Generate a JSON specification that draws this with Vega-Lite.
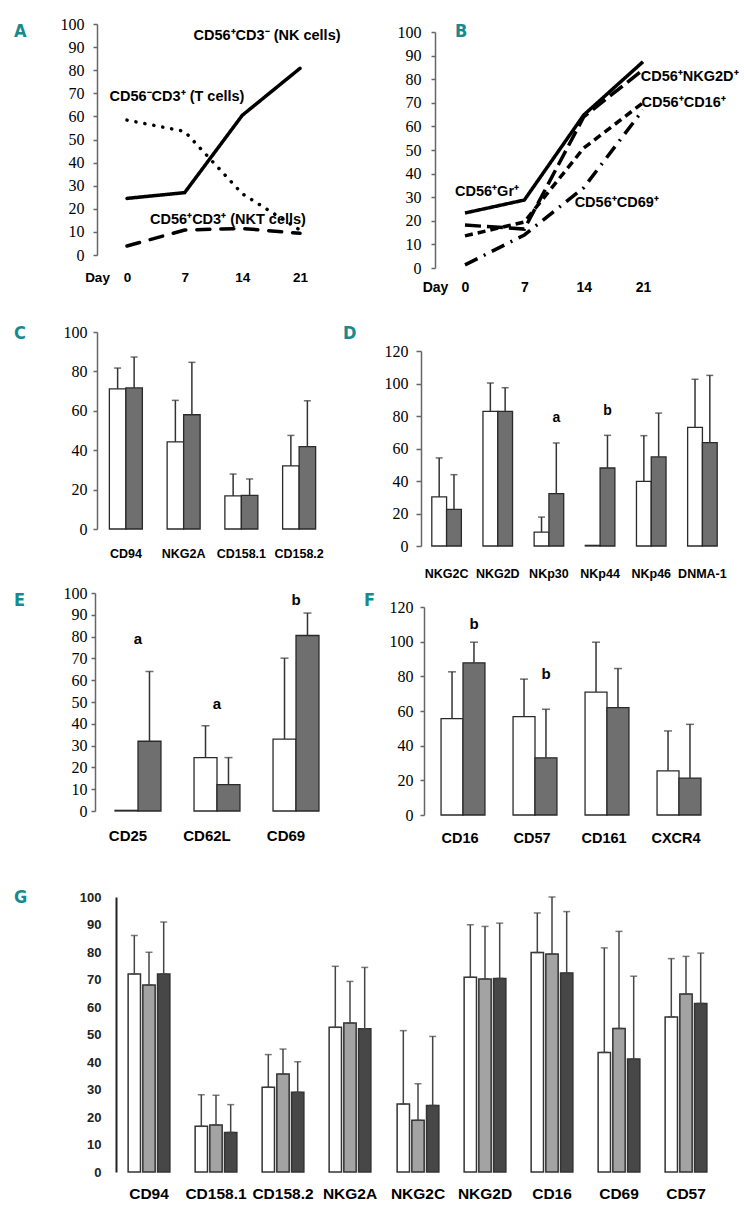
{
  "$schema": "https://vega.github.io/schema/vega-lite/v6.json",
  "padding": {"left": 14, "top": 10, "right": 0, "bottom": 5},
  "autosize": {"type": "pad"},
  "background": "white",
  "columns": 2,
  "align": "none",
  "bounds": "flush",
  "spacing": 0,
  "resolve": {"scale": {"xOffset": "independent", "fill": "independent", "strokeDash": "independent"}},
  "config": {"view": {"stroke": null}, "axis": {"grid": false, "labelOverlap": false, "labelFlush": false}, "title": {"offset": 0}},
  "datasets": {
    "A": [
      {"day": 0, "series": "NK", "value": 24.5}, {"day": 7, "series": "NK", "value": 27}, {"day": 14, "series": "NK", "value": 60.5}, {"day": 21, "series": "NK", "value": 80.8},
      {"day": 0, "series": "T", "value": 58.4}, {"day": 7, "series": "T", "value": 53.5}, {"day": 14, "series": "T", "value": 26.5}, {"day": 21, "series": "T", "value": 10.8},
      {"day": 0, "series": "NKT", "value": 3.9}, {"day": 7, "series": "NKT", "value": 10.8}, {"day": 14, "series": "NKT", "value": 11.5}, {"day": 21, "series": "NKT", "value": 9.4}
    ],
    "Alab": [
      {"day": 17.0, "value": 94.8, "label": "CD56⁺CD3⁻ (NK cells)"},
      {"day": 6.07, "value": 68.4, "label": "CD56⁻CD3⁺ (T cells)"},
      {"day": 12.26, "value": 15.2, "label": "CD56⁺CD3⁺ (NKT cells)"}
    ],
    "B": [
      {"day": 0, "series": "Gr", "value": 23.3}, {"day": 7, "series": "Gr", "value": 28.8}, {"day": 14, "series": "Gr", "value": 64.8}, {"day": 21, "series": "Gr", "value": 87.4},
      {"day": 0, "series": "NKG2D", "value": 18.2}, {"day": 7, "series": "NKG2D", "value": 16.5}, {"day": 14, "series": "NKG2D", "value": 64}, {"day": 21, "series": "NKG2D", "value": 84},
      {"day": 0, "series": "CD16", "value": 13.6}, {"day": 7, "series": "CD16", "value": 19.5}, {"day": 14, "series": "CD16", "value": 50.8}, {"day": 21, "series": "CD16", "value": 70},
      {"day": 0, "series": "CD69", "value": 1.3}, {"day": 7, "series": "CD69", "value": 14}, {"day": 14, "series": "CD69", "value": 34}, {"day": 21, "series": "CD69", "value": 67}
    ],
    "Blab": [
      {"day": 26.5, "value": 80.9, "label": "CD56⁺NKG2D⁺"},
      {"day": 25.8, "value": 69.9, "label": "CD56⁺CD16⁺"},
      {"day": 2.6, "value": 32.2, "label": "CD56⁺Gr⁺"},
      {"day": 17.9, "value": 27.5, "label": "CD56⁺CD69⁺"}
    ],
    "C": [
      {"cat": "CD94", "grp": "before", "value": 71.1, "upper": 81.7},
      {"cat": "CD94", "grp": "after", "value": 71.6, "upper": 87.3},
      {"cat": "NKG2A", "grp": "before", "value": 44.2, "upper": 65.3},
      {"cat": "NKG2A", "grp": "after", "value": 58, "upper": 84.6},
      {"cat": "CD158.1", "grp": "before", "value": 16.8, "upper": 27.9},
      {"cat": "CD158.1", "grp": "after", "value": 17.1, "upper": 25.4},
      {"cat": "CD158.2", "grp": "before", "value": 32, "upper": 47.5},
      {"cat": "CD158.2", "grp": "after", "value": 41.8, "upper": 65.1}
    ],
    "D": [
      {"cat": "NKG2C", "grp": "before", "value": 30.2, "upper": 54.2},
      {"cat": "NKG2C", "grp": "after", "value": 22.6, "upper": 43.9},
      {"cat": "NKG2D", "grp": "before", "value": 82.9, "upper": 100.3},
      {"cat": "NKG2D", "grp": "after", "value": 82.9, "upper": 97.4},
      {"cat": "NKp30", "grp": "before", "value": 8.6, "upper": 17.8},
      {"cat": "NKp30", "grp": "after", "value": 32.2, "upper": 63.4},
      {"cat": "NKp44", "grp": "before", "value": 0.4, "upper": null},
      {"cat": "NKp44", "grp": "after", "value": 48, "upper": 68.1},
      {"cat": "NKp46", "grp": "before", "value": 39.8, "upper": 67.9},
      {"cat": "NKp46", "grp": "after", "value": 54.8, "upper": 81.8},
      {"cat": "DNMA-1", "grp": "before", "value": 73, "upper": 102.6},
      {"cat": "DNMA-1", "grp": "after", "value": 63.6, "upper": 105}
    ],
    "Dlet": [
      {"cat": "NKp30", "grp": "after", "value": 79, "label": "a"},
      {"cat": "NKp44", "grp": "after", "value": 83, "label": "b"}
    ],
    "E": [
      {"cat": "CD25", "grp": "before", "value": 0.3, "upper": null},
      {"cat": "CD25", "grp": "after", "value": 32, "upper": 64},
      {"cat": "CD62L", "grp": "before", "value": 24.5, "upper": 39.1},
      {"cat": "CD62L", "grp": "after", "value": 12.1, "upper": 24.5},
      {"cat": "CD69", "grp": "before", "value": 33, "upper": 70.1},
      {"cat": "CD69", "grp": "after", "value": 80.5, "upper": 90.8}
    ],
    "Elet": [
      {"cat": "CD25", "value": 79, "label": "a"},
      {"cat": "CD62L", "value": 49, "label": "a"},
      {"cat": "CD69", "value": 97, "label": "b"}
    ],
    "F": [
      {"cat": "CD16", "grp": "before", "value": 55.6, "upper": 82.6},
      {"cat": "CD16", "grp": "after", "value": 87.8, "upper": 99.7},
      {"cat": "CD57", "grp": "before", "value": 56.7, "upper": 78.4},
      {"cat": "CD57", "grp": "after", "value": 33, "upper": 61},
      {"cat": "CD161", "grp": "before", "value": 70.9, "upper": 99.7},
      {"cat": "CD161", "grp": "after", "value": 62, "upper": 84.5},
      {"cat": "CXCR4", "grp": "before", "value": 25.5, "upper": 48.5},
      {"cat": "CXCR4", "grp": "after", "value": 21.3, "upper": 52.3}
    ],
    "Flet": [
      {"cat": "CD16", "grp": "after", "value": 110, "label": "b"},
      {"cat": "CD57", "grp": "after", "value": 81.6, "label": "b"}
    ],
    "G1": [
      {"cat": "CD94", "grp": "g1", "value": 72, "upper": 86},
      {"cat": "CD94", "grp": "g2", "value": 68, "upper": 79.9},
      {"cat": "CD94", "grp": "g3", "value": 72, "upper": 90.9},
      {"cat": "CD158.1", "grp": "g1", "value": 16.6, "upper": 28.1},
      {"cat": "CD158.1", "grp": "g2", "value": 17.1, "upper": 27.9},
      {"cat": "CD158.1", "grp": "g3", "value": 14.4, "upper": 24.5},
      {"cat": "CD158.2", "grp": "g1", "value": 30.8, "upper": 42.7},
      {"cat": "CD158.2", "grp": "g2", "value": 35.6, "upper": 44.7},
      {"cat": "CD158.2", "grp": "g3", "value": 29, "upper": 40.1},
      {"cat": "NKG2A", "grp": "g1", "value": 52.6, "upper": 74.8},
      {"cat": "NKG2A", "grp": "g2", "value": 54.2, "upper": 69.3},
      {"cat": "NKG2A", "grp": "g3", "value": 52.1, "upper": 74.4}
    ],
    "G2": [
      {"cat": "NKG2C", "grp": "g1", "value": 24.7, "upper": 51.4},
      {"cat": "NKG2C", "grp": "g2", "value": 18.8, "upper": 32.1},
      {"cat": "NKG2C", "grp": "g3", "value": 24.2, "upper": 49.3},
      {"cat": "NKG2D", "grp": "g1", "value": 70.8, "upper": 89.9},
      {"cat": "NKG2D", "grp": "g2", "value": 70.2, "upper": 89.3},
      {"cat": "NKG2D", "grp": "g3", "value": 70.4, "upper": 90.5},
      {"cat": "CD16", "grp": "g1", "value": 79.8, "upper": 94.2},
      {"cat": "CD16", "grp": "g2", "value": 79.3, "upper": 100},
      {"cat": "CD16", "grp": "g3", "value": 72.4, "upper": 94.7},
      {"cat": "CD69", "grp": "g1", "value": 43.5, "upper": 81.5},
      {"cat": "CD69", "grp": "g2", "value": 52.2, "upper": 87.5},
      {"cat": "CD69", "grp": "g3", "value": 41.1, "upper": 71.2},
      {"cat": "CD57", "grp": "g1", "value": 56.4, "upper": 77.6},
      {"cat": "CD57", "grp": "g2", "value": 64.7, "upper": 78.4},
      {"cat": "CD57", "grp": "g3", "value": 61.3, "upper": 79.6}
    ]
  },
  "concat": [
    {
      "width": 326, "height": 258,
      "title": {"text": "A", "anchor": "start", "frame": "group", "orient": "top", "offset": 0, "dx": -81, "dy": 45, "baseline": "alphabetic", "font": "DejaVu Sans Condensed, Roboto Condensed, Roboto, sans-serif", "fontSize": 18, "fontWeight": "bold", "color": "#178a8f"},
      "layer": [
        {
          "data": {"name": "A"},
          "mark": {"type": "line", "strokeWidth": 3.5, "strokeCap": "round", "color": "black"},
          "encoding": {
            "x": {"field": "day", "type": "quantitative", "scale": {"domain": [0, 21], "range": [32, 205], "nice": false, "zero": false},
              "axis": {"values": [0, 7, 14, 21], "domain": false, "ticks": false, "labelFont": "Liberation Sans", "labelFontWeight": "bold", "labelFontSize": 13.5, "labelBaseline": "middle", "labelPadding": 9, "labelColor": "black", "title": "Day", "titleX": 2, "titleY": 9, "titleBaseline": "middle", "titleAlign": "center", "titleFont": "Liberation Sans", "titleFontSize": 13.5, "titleFontWeight": "bold", "titleColor": "black"}},
            "y": {"field": "value", "type": "quantitative", "scale": {"domain": [0, 100], "range": [245, 14], "nice": false},
              "axis": {"values": [0, 10, 20, 30, 40, 50, 60, 70, 80, 90, 100], "tickCount": 11, "labelOverlap": false, "title": null, "offset": -2, "domainColor": "#666", "domainWidth": 1.5, "tickColor": "#666", "tickWidth": 1.5, "tickSize": 4, "labelFont": "Liberation Serif", "labelFontSize": 16, "labelPadding": 9, "labelColor": "black"}},
            "strokeDash": {"field": "series", "type": "nominal", "scale": {"domain": ["NK", "T", "NKT"], "range": [[1, 0], [0.1, 9], [13, 11]]}, "legend": null}
          }
        },
        {
          "data": {"name": "Alab"},
          "mark": {"type": "text", "font": "Liberation Sans", "fontWeight": "bold", "fontSize": 14.5, "color": "black", "align": "center", "baseline": "middle"},
          "encoding": {
            "x": {"field": "day", "type": "quantitative"},
            "y": {"field": "value", "type": "quantitative"},
            "text": {"field": "label"}
          }
        }
      ]
    },
    {
      "width": 310, "height": 258,
      "title": {"text": "B", "anchor": "start", "frame": "group", "orient": "top", "offset": 0, "dx": 34, "dy": 45, "baseline": "alphabetic", "font": "DejaVu Sans Condensed, Roboto Condensed, Roboto, sans-serif", "fontSize": 18, "fontWeight": "bold", "color": "#178a8f"},
      "layer": [
        {
          "data": {"name": "B"},
          "mark": {"type": "line", "strokeWidth": 3.5, "color": "black"},
          "encoding": {
            "x": {"field": "day", "type": "quantitative", "scale": {"domain": [0, 21], "range": [44, 222], "nice": false, "zero": false},
              "axis": {"values": [0, 7, 14, 21], "domain": false, "ticks": false, "labelFont": "Liberation Sans", "labelFontWeight": "bold", "labelFontSize": 14, "labelBaseline": "middle", "labelPadding": 19, "labelColor": "black", "title": "Day", "titleX": 14, "titleY": 19, "titleBaseline": "middle", "titleAlign": "center", "titleFont": "Liberation Sans", "titleFontSize": 14, "titleFontWeight": "bold", "titleColor": "black"}},
            "y": {"field": "value", "type": "quantitative", "scale": {"domain": [0, 100], "range": [258, 22], "nice": false},
              "axis": {"values": [0, 10, 20, 30, 40, 50, 60, 70, 80, 90, 100], "tickCount": 11, "labelOverlap": false, "title": null, "offset": -14, "domainColor": "#666", "domainWidth": 1.5, "tickColor": "#666", "tickWidth": 1.5, "tickSize": 4, "labelFont": "Liberation Serif", "labelFontSize": 16, "labelPadding": 10, "labelColor": "black"}},
            "strokeDash": {"field": "series", "type": "nominal", "scale": {"domain": ["Gr", "NKG2D", "CD16", "CD69"], "range": [[1, 0], [16, 6], [8, 5], [14, 7, 2, 7]]}, "legend": null}
          }
        },
        {
          "data": {"name": "Blab"},
          "mark": {"type": "text", "font": "Liberation Sans", "fontWeight": "bold", "fontSize": 14.5, "color": "black", "align": "center", "baseline": "middle"},
          "encoding": {
            "x": {"field": "day", "type": "quantitative"},
            "y": {"field": "value", "type": "quantitative"},
            "text": {"field": "label"}
          }
        }
      ]
    },
    {
      "width": 326, "height": 278,
      "title": {"text": "C", "anchor": "start", "frame": "group", "orient": "top", "offset": 0, "dx": -81, "dy": 89, "baseline": "alphabetic", "font": "DejaVu Sans Condensed, Roboto Condensed, Roboto, sans-serif", "fontSize": 18, "fontWeight": "bold", "color": "#178a8f"},
      "data": {"name": "C"},
      "encoding": {
        "x": {"field": "cat", "type": "nominal", "scale": {"domain": ["CD94", "NKG2A", "CD158.1", "CD158.2"], "range": [2, 233], "paddingInner": 0, "paddingOuter": 0},
          "axis": {"domain": false, "ticks": false, "labelAngle": 0, "labelFont": "Liberation Sans", "labelFontWeight": "bold", "labelFontSize": 12.5, "labelBaseline": "middle", "labelPadding": 7, "labelColor": "black", "title": null}},
        "xOffset": {"field": "grp", "type": "nominal", "scale": {"domain": ["before", "after"], "paddingOuter": 0.75, "paddingInner": 0}}
      },
      "layer": [
        {
          "mark": {"type": "bar", "stroke": "#2a2a2a", "strokeWidth": 1.3},
          "encoding": {
            "y": {"field": "value", "type": "quantitative", "scale": {"domain": [0, 100], "range": [261, 64], "nice": false},
              "axis": {"values": [0, 20, 40, 60, 80, 100], "title": null, "offset": -2, "domainColor": "#666", "domainWidth": 1.5, "tickColor": "#666", "tickWidth": 1.5, "tickSize": 4, "labelFont": "Liberation Serif", "labelFontSize": 16, "labelPadding": 6, "labelColor": "black"}},
            "fill": {"field": "grp", "type": "nominal", "scale": {"domain": ["before", "after"], "range": ["white", "#6f6f6f"]}, "legend": null}
          }
        },
        {
          "transform": [{"filter": "datum.upper != null"}],
          "mark": {"type": "rule", "color": "#333", "strokeWidth": 1.5},
          "encoding": {"y": {"field": "value", "type": "quantitative"}, "y2": {"field": "upper"}}
        },
        {
          "transform": [{"filter": "datum.upper != null"}],
          "mark": {"type": "tick", "color": "#333", "thickness": 1.5, "size": 7},
          "encoding": {"y": {"field": "upper", "type": "quantitative"}}
        }
      ]
    },
    {
      "width": 310, "height": 278,
      "title": {"text": "D", "anchor": "start", "frame": "group", "orient": "top", "offset": 0, "dx": -78, "dy": 89, "baseline": "alphabetic", "font": "DejaVu Sans Condensed, Roboto Condensed, Roboto, sans-serif", "fontSize": 18, "fontWeight": "bold", "color": "#178a8f"},
      "layer": [
        {
          "data": {"name": "D"},
          "mark": {"type": "bar", "stroke": "#2a2a2a", "strokeWidth": 1.3},
          "encoding": {
            "x": {"field": "cat", "type": "nominal", "scale": {"domain": ["NKG2C", "NKG2D", "NKp30", "NKp44", "NKp46", "DNMA-1"], "range": [0, 307], "paddingInner": 0, "paddingOuter": 0},
              "axis": {"domain": false, "ticks": false, "labelAngle": 0, "labelFont": "Liberation Sans", "labelFontWeight": "bold", "labelFontSize": 12.5, "labelBaseline": "middle", "labelPadding": 27, "labelColor": "black", "title": null}},
            "xOffset": {"field": "grp", "type": "nominal", "scale": {"domain": ["before", "after"], "paddingOuter": 0.73, "paddingInner": 0}},
            "y": {"field": "value", "type": "quantitative", "scale": {"domain": [0, 120], "range": [278, 83], "nice": false},
              "axis": {"values": [0, 20, 40, 60, 80, 100, 120], "title": null, "domainColor": "#666", "domainWidth": 1.5, "tickColor": "#666", "tickWidth": 1.5, "tickSize": 5, "labelFont": "Liberation Serif", "labelFontSize": 16, "labelPadding": 8, "labelColor": "black"}},
            "fill": {"field": "grp", "type": "nominal", "scale": {"domain": ["before", "after"], "range": ["white", "#6f6f6f"]}, "legend": null}
          }
        },
        {
          "data": {"name": "D"},
          "transform": [{"filter": "datum.upper != null"}],
          "mark": {"type": "rule", "color": "#333", "strokeWidth": 1.5},
          "encoding": {"x": {"field": "cat", "type": "nominal"}, "xOffset": {"field": "grp", "type": "nominal"}, "y": {"field": "value", "type": "quantitative"}, "y2": {"field": "upper"}}
        },
        {
          "data": {"name": "D"},
          "transform": [{"filter": "datum.upper != null"}],
          "mark": {"type": "tick", "color": "#333", "thickness": 1.5, "size": 7},
          "encoding": {"x": {"field": "cat", "type": "nominal"}, "xOffset": {"field": "grp", "type": "nominal"}, "y": {"field": "upper", "type": "quantitative"}}
        },
        {
          "data": {"name": "Dlet"},
          "mark": {"type": "text", "font": "Liberation Sans", "fontWeight": "bold", "fontSize": 14, "color": "black", "baseline": "middle"},
          "encoding": {"x": {"field": "cat", "type": "nominal"}, "xOffset": {"field": "grp", "type": "nominal"}, "y": {"field": "value", "type": "quantitative"}, "text": {"field": "label"}}
        }
      ]
    },
    {
      "width": 326, "height": 269,
      "title": {"text": "E", "anchor": "start", "frame": "group", "orient": "top", "offset": 0, "dx": -81, "dy": 78, "baseline": "alphabetic", "font": "DejaVu Sans Condensed, Roboto Condensed, Roboto, sans-serif", "fontSize": 18, "fontWeight": "bold", "color": "#178a8f"},
      "layer": [
        {
          "data": {"name": "E"},
          "mark": {"type": "bar", "stroke": "#2a2a2a", "strokeWidth": 1.3},
          "encoding": {
            "x": {"field": "cat", "type": "nominal", "scale": {"domain": ["CD25", "CD62L", "CD69"], "range": [3.5, 240.5], "paddingInner": 0, "paddingOuter": 0},
              "axis": {"domain": false, "ticks": false, "labelAngle": 0, "labelOffset": -10, "labelFont": "Liberation Sans", "labelFontWeight": "bold", "labelFontSize": 15, "labelBaseline": "middle", "labelPadding": 20, "labelColor": "black", "title": null}},
            "xOffset": {"field": "grp", "type": "nominal", "scale": {"domain": ["before", "after"], "paddingOuter": 0.72, "paddingInner": 0}},
            "y": {"field": "value", "type": "quantitative", "scale": {"domain": [0, 100], "range": [265, 47], "nice": false},
              "axis": {"values": [0, 10, 20, 30, 40, 50, 60, 70, 80, 90, 100], "tickCount": 11, "labelOverlap": false, "title": null, "domainColor": "#666", "domainWidth": 1.5, "tickColor": "#666", "tickWidth": 1.5, "tickSize": 4, "labelFont": "Liberation Serif", "labelFontSize": 16, "labelPadding": 4, "labelColor": "black"}},
            "fill": {"field": "grp", "type": "nominal", "scale": {"domain": ["before", "after"], "range": ["white", "#6f6f6f"]}, "legend": null}
          }
        },
        {
          "data": {"name": "E"},
          "transform": [{"filter": "datum.upper != null"}],
          "mark": {"type": "rule", "color": "#333", "strokeWidth": 1.5},
          "encoding": {"x": {"field": "cat", "type": "nominal"}, "xOffset": {"field": "grp", "type": "nominal"}, "y": {"field": "value", "type": "quantitative"}, "y2": {"field": "upper"}}
        },
        {
          "data": {"name": "E"},
          "transform": [{"filter": "datum.upper != null"}],
          "mark": {"type": "tick", "color": "#333", "thickness": 1.5, "size": 8},
          "encoding": {"x": {"field": "cat", "type": "nominal"}, "xOffset": {"field": "grp", "type": "nominal"}, "y": {"field": "upper", "type": "quantitative"}}
        },
        {
          "data": {"name": "Elet"},
          "mark": {"type": "text", "font": "Liberation Sans", "fontWeight": "bold", "fontSize": 15, "color": "black", "baseline": "middle"},
          "encoding": {"x": {"field": "cat", "type": "nominal"}, "y": {"field": "value", "type": "quantitative"}, "text": {"field": "label"}}
        }
      ]
    },
    {
      "width": 310, "height": 269,
      "title": {"text": "F", "anchor": "start", "frame": "group", "orient": "top", "offset": 0, "dx": -57, "dy": 78, "baseline": "alphabetic", "font": "DejaVu Sans Condensed, Roboto Condensed, Roboto, sans-serif", "fontSize": 18, "fontWeight": "bold", "color": "#178a8f"},
      "layer": [
        {
          "data": {"name": "F"},
          "mark": {"type": "bar", "stroke": "#2a2a2a", "strokeWidth": 1.3},
          "encoding": {
            "x": {"field": "cat", "type": "nominal", "scale": {"domain": ["CD16", "CD57", "CD161", "CXCR4"], "range": [6, 294], "paddingInner": 0, "paddingOuter": 0},
              "axis": {"domain": false, "ticks": false, "labelAngle": 0, "labelOffset": -3, "labelFont": "Liberation Sans", "labelFontWeight": "bold", "labelFontSize": 14.5, "labelBaseline": "middle", "labelPadding": 23, "labelColor": "black", "title": null}},
            "xOffset": {"field": "grp", "type": "nominal", "scale": {"domain": ["before", "after"], "paddingOuter": 0.64, "paddingInner": 0}},
            "y": {"field": "value", "type": "quantitative", "scale": {"domain": [0, 120], "range": [269, 61], "nice": false},
              "axis": {"values": [0, 20, 40, 60, 80, 100, 120], "title": null, "offset": -3, "domainColor": "#666", "domainWidth": 1.5, "tickColor": "#666", "tickWidth": 1.5, "tickSize": 4, "labelFont": "Liberation Serif", "labelFontSize": 16, "labelPadding": 7, "labelColor": "black"}},
            "fill": {"field": "grp", "type": "nominal", "scale": {"domain": ["before", "after"], "range": ["white", "#6f6f6f"]}, "legend": null}
          }
        },
        {
          "data": {"name": "F"},
          "transform": [{"filter": "datum.upper != null"}],
          "mark": {"type": "rule", "color": "#333", "strokeWidth": 1.5},
          "encoding": {"x": {"field": "cat", "type": "nominal"}, "xOffset": {"field": "grp", "type": "nominal"}, "y": {"field": "value", "type": "quantitative"}, "y2": {"field": "upper"}}
        },
        {
          "data": {"name": "F"},
          "transform": [{"filter": "datum.upper != null"}],
          "mark": {"type": "tick", "color": "#333", "thickness": 1.5, "size": 8},
          "encoding": {"x": {"field": "cat", "type": "nominal"}, "xOffset": {"field": "grp", "type": "nominal"}, "y": {"field": "upper", "type": "quantitative"}}
        },
        {
          "data": {"name": "Flet"},
          "mark": {"type": "text", "font": "Liberation Sans", "fontWeight": "bold", "fontSize": 15, "color": "black", "baseline": "middle"},
          "encoding": {"x": {"field": "cat", "type": "nominal"}, "xOffset": {"field": "grp", "type": "nominal"}, "y": {"field": "value", "type": "quantitative"}, "text": {"field": "label"}}
        }
      ]
    },
    {
      "width": 326, "height": 357,
      "title": {"text": "G", "anchor": "start", "frame": "group", "orient": "top", "offset": 0, "dx": -81, "dy": 106, "baseline": "alphabetic", "font": "DejaVu Sans Condensed, Roboto Condensed, Roboto, sans-serif", "fontSize": 18, "fontWeight": "bold", "color": "#178a8f"},
      "data": {"name": "G1"},
      "encoding": {
        "x": {"field": "cat", "type": "nominal", "scale": {"domain": ["CD94", "CD158.1", "CD158.2", "NKG2A"], "range": [20.5, 288.5], "paddingInner": 0, "paddingOuter": 0},
          "axis": {"domain": false, "ticks": false, "labelAngle": 0, "labelFont": "Liberation Sans", "labelFontWeight": "bold", "labelFontSize": 15.5, "labelBaseline": "middle", "labelPadding": 21, "labelColor": "black", "title": null}},
        "xOffset": {"field": "grp", "type": "nominal", "scale": {"domain": ["g1", "g2", "g3"], "paddingOuter": 0.86, "paddingInner": 0.16}}
      },
      "layer": [
        {
          "mark": {"type": "bar", "stroke": "#333", "strokeWidth": 1.5},
          "encoding": {
            "y": {"field": "value", "type": "quantitative", "scale": {"domain": [0, 100], "range": [357, 82], "nice": false},
              "axis": {"values": [0, 10, 20, 30, 40, 50, 60, 70, 80, 90, 100], "tickCount": 11, "labelOverlap": false, "title": null, "offset": -21, "domainColor": "#222", "domainWidth": 2, "ticks": false, "labelFont": "Liberation Sans", "labelFontWeight": "bold", "labelFontSize": 13, "labelPadding": 15, "labelColor": "#222"}},
            "fill": {"field": "grp", "type": "nominal", "scale": {"domain": ["g1", "g2", "g3"], "range": ["white", "#a3a3a3", "#474747"]}, "legend": null}
          }
        },
        {
          "mark": {"type": "rule", "color": "#444", "strokeWidth": 1.5},
          "encoding": {"y": {"field": "value", "type": "quantitative"}, "y2": {"field": "upper"}}
        },
        {
          "mark": {"type": "tick", "color": "#444", "thickness": 1.5, "size": 7},
          "encoding": {"y": {"field": "upper", "type": "quantitative"}}
        },
        {
          "mark": {"type": "tick", "color": "#444", "thickness": 1.5, "size": 7},
          "encoding": {"y": {"field": "value", "type": "quantitative"}}
        }
      ]
    },
    {
      "width": 310, "height": 357,
      "data": {"name": "G2"},
      "encoding": {
        "x": {"field": "cat", "type": "nominal", "scale": {"domain": ["NKG2C", "NKG2D", "CD16", "CD69", "CD57"], "range": [-36.5, 298.5], "paddingInner": 0, "paddingOuter": 0},
          "axis": {"domain": false, "ticks": false, "labelAngle": 0, "labelFont": "Liberation Sans", "labelFontWeight": "bold", "labelFontSize": 15.5, "labelBaseline": "middle", "labelPadding": 21, "labelColor": "black", "title": null}},
        "xOffset": {"field": "grp", "type": "nominal", "scale": {"domain": ["g1", "g2", "g3"], "paddingOuter": 0.86, "paddingInner": 0.16}}
      },
      "layer": [
        {
          "mark": {"type": "bar", "stroke": "#333", "strokeWidth": 1.5},
          "encoding": {
            "y": {"field": "value", "type": "quantitative", "scale": {"domain": [0, 100], "range": [357, 82], "nice": false}, "axis": null},
            "fill": {"field": "grp", "type": "nominal", "scale": {"domain": ["g1", "g2", "g3"], "range": ["white", "#a3a3a3", "#474747"]}, "legend": null}
          }
        },
        {
          "mark": {"type": "rule", "color": "#444", "strokeWidth": 1.5},
          "encoding": {"y": {"field": "value", "type": "quantitative"}, "y2": {"field": "upper"}}
        },
        {
          "mark": {"type": "tick", "color": "#444", "thickness": 1.5, "size": 7},
          "encoding": {"y": {"field": "upper", "type": "quantitative"}}
        },
        {
          "mark": {"type": "tick", "color": "#444", "thickness": 1.5, "size": 7},
          "encoding": {"y": {"field": "value", "type": "quantitative"}}
        }
      ]
    }
  ]
}
